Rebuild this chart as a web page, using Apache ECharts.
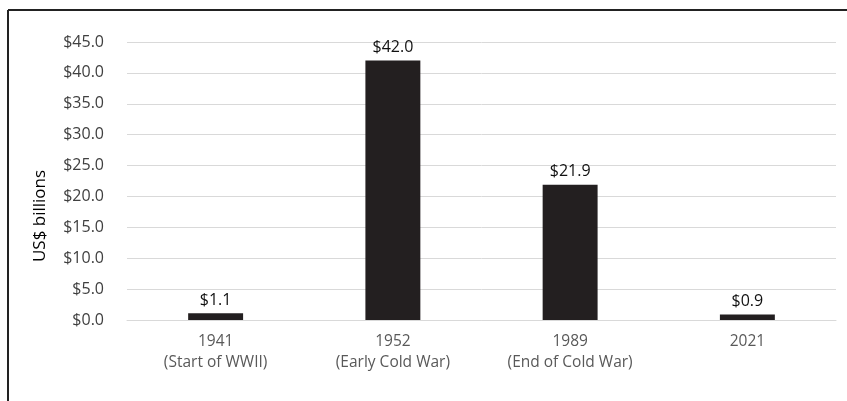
<!DOCTYPE html>
<html><head><meta charset="utf-8">
<script src="https://cdn.jsdelivr.net/npm/echarts@6/dist/echarts.min.js"></script>
<style>html,body{margin:0;padding:0;background:#fff}#c{width:847px;height:401px}</style>
</head><body><div id="c"></div>
<script>
const categories = ['1941\n(Start of WWII)', '1952\n(Early Cold War)', '1989\n(End of Cold War)', '2021'];
const values = [1.1, 42.0, 21.9, 0.9];
const yMin = 0, yMax = 45, yStep = 5;
const yTitle = 'US$ billions';

const chart = echarts.init(document.getElementById('c'), null, {renderer: 'canvas'});
const font = '"Open Sans", "Liberation Sans", sans-serif';
chart.setOption({
  animation: false,
  textStyle: {fontFamily: font},
  graphic: [
    {type: 'line', shape: {x1: 8, y1: 10, x2: 847, y2: 10}, style: {stroke: '#222', lineWidth: 2}},
    {type: 'line', shape: {x1: 8, y1: 10, x2: 8, y2: 401}, style: {stroke: '#222', lineWidth: 2}},
    {type: 'text', x: 40, y: 216, rotation: Math.PI / 2,
      style: {text: yTitle, fill: '#000', font: '17px ' + font, align: 'center', verticalAlign: 'middle'}}
  ],
  grid: {left: 127, right: 11, top: 42, bottom: 81},
  xAxis: {
    type: 'category', data: categories,
    axisLine: {lineStyle: {color: '#d9d9d9', width: 1}},
    axisTick: {show: false},
    axisLabel: {color: '#595959', fontSize: 15.5, lineHeight: 21, margin: 11, fontFamily: font}
  },
  yAxis: {
    type: 'value', min: yMin, max: yMax, interval: yStep,
    axisLine: {show: false}, axisTick: {show: false},
    splitLine: {lineStyle: {color: '#d9d9d9', width: 1}},
    axisLabel: {color: '#404040', fontSize: 16, margin: 23, fontFamily: font,
      formatter: v => '$' + v.toFixed(1)}
  },
  series: [{
    type: 'bar', data: values, barWidth: '31%',
    itemStyle: {color: '#231f20'},
    label: {show: true, position: 'top', distance: 5, color: '#111', fontSize: 16, fontFamily: font,
      formatter: p => '$' + p.value.toFixed(1)}
  }]
});
</script></body></html>
